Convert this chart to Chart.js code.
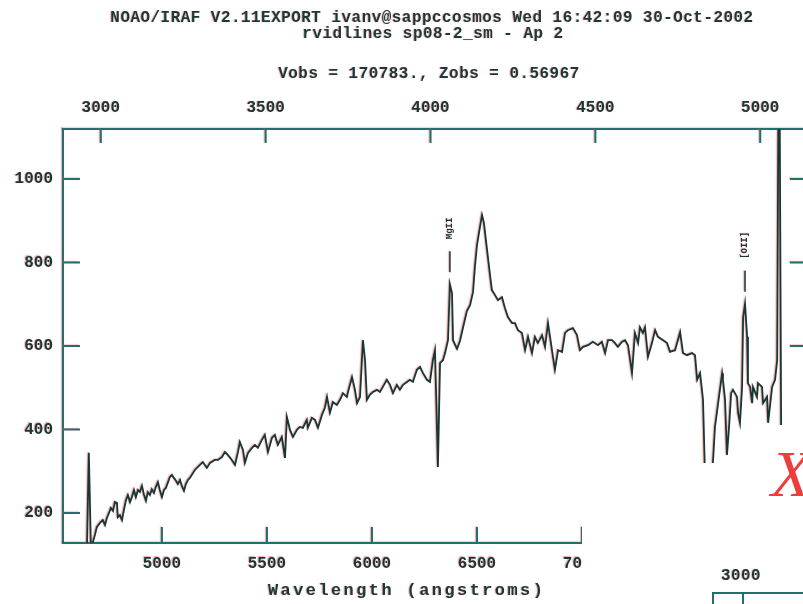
<!DOCTYPE html>
<html>
<head>
<meta charset="utf-8">
<title>rvidlines sp08-2_sm</title>
<script src="https://cdn.jsdelivr.net/npm/chart.js@4.4.1/dist/chart.umd.min.js"></script>
<style>
  html, body { margin: 0; padding: 0; background: #fff; width: 803px; height: 604px; overflow: hidden; }
  #wrap { position: absolute; left: 0; top: 0; width: 830px; height: 604px; }
  canvas { position: absolute; left: 0; top: 0; }
  .txt {
    position: absolute; white-space: pre; color: #163b3a;
    font: bold 16px/16px "Liberation Mono", monospace; letter-spacing: 0.45px;
    text-shadow: -1px -0.5px 1px rgba(235, 80, 80, 0.5);
  }
  .centred { transform: translateX(-50%); }
  /* corner of the neighbouring panel laid over this one */
  .blank { position: absolute; background: #fff; }
  .edge { position: absolute; background: #22706d; }
  #bigX {
    position: absolute; left: 771px; top: 441px; color: #ef3d3d;
    font: italic 66px/66px "Liberation Serif", serif;
  }
</style>
</head>
<body>
<div id="wrap">
  <canvas id="spec" width="830" height="604"></canvas>

  <div class="txt centred" style="left:432px; top:10px;">NOAO/IRAF V2.11EXPORT ivanv@sappccosmos Wed 16:42:09 30-Oct-2002</div>
  <div class="txt centred" style="left:433px; top:26px;">rvidlines sp08-2_sm - Ap 2</div>
  <div class="txt centred" style="left:429px; top:66px;">Vobs = 170783., Zobs = 0.56967</div>
  <div class="txt" style="left:268px; top:583px; font-size:17px; letter-spacing:2.4px;">Wavelength (angstroms)</div>

  <div class="blank" style="left:582px; top:463px; width:250px; height:150px;"></div>
  <div class="blank" style="left:757px; top:425px; width:76px; height:40px;"></div>
  <div id="bigX">X</div>
  <div class="txt centred" style="left:741px; top:568px;">3000</div>
  <div class="edge" style="left:713px; top:592px; width:100px; height:2px;"></div>
  <div class="edge" style="left:712px; top:592px; width:2px; height:14px;"></div>
  <div class="edge" style="left:742px; top:592px; width:2px; height:14px;"></div>
</div>

<script>
// observed wavelength (A) and flux of the extracted aperture
const wavelength = [
  4643, 4652, 4662, 4671, 4681, 4690, 4705, 4719, 4729, 4738, 4748, 4757, 4767, 4776, 4786, 4790,
  4800, 4810, 4819, 4829, 4838, 4848, 4857, 4867, 4876, 4886, 4895, 4905, 4914, 4924, 4933, 4943,
  4952, 4962, 4971, 4981, 4990, 5000, 5010, 5019, 5038, 5048, 5057, 5067, 5076, 5086, 5095, 5105,
  5114, 5124, 5133, 5157, 5181, 5195, 5214, 5229, 5252, 5267, 5286, 5300, 5314, 5333, 5348, 5362,
  5371, 5386, 5395, 5410, 5429, 5443, 5457, 5476, 5490, 5505, 5524, 5538, 5552, 5571, 5586, 5595,
  5610, 5624, 5643, 5657, 5671, 5690, 5695, 5714, 5729, 5743, 5762, 5776, 5786, 5800, 5814, 5833,
  5848, 5862, 5881, 5886, 5905, 5919, 5929, 5943, 5957, 5967, 5976, 5990, 6005, 6024, 6038, 6052,
  6071, 6086, 6100, 6119, 6133, 6148, 6167, 6181, 6195, 6214, 6229, 6243, 6262, 6276, 6290, 6300,
  6310, 6314, 6324, 6338, 6348, 6362, 6371, 6381, 6386, 6405, 6419, 6433, 6452, 6467, 6481, 6490,
  6500, 6514, 6524, 6533, 6548, 6562, 6571, 6586, 6600, 6619, 6633, 6648, 6667, 6681, 6695, 6714,
  6729, 6743, 6762, 6776, 6790, 6810, 6824, 6838, 6857, 6871, 6886, 6905, 6919, 6933, 6957, 6976,
  6990, 7005, 7029, 7052, 7076, 7095, 7110, 7124, 7143, 7157, 7171, 7190, 7205, 7219, 7238, 7252,
  7267, 7276, 7290, 7300, 7314, 7333, 7348, 7362, 7386, 7405, 7419, 7443, 7467, 7481, 7500, 7524,
  7538, 7548, 7562, 7571, 7576, 7586, 7600, 7619, 7633, 7648, 7667, 7671, 7681, 7690, 7700, 7710,
  7719, 7738, 7743, 7752, 7762, 7767, 7776, 7786, 7790, 7800, 7810, 7814, 7833, 7838, 7857, 7862,
  7881, 7886, 7905, 7919, 7929, 7938, 7948, 7957
];
const flux = [
  116, 344, 116, 130, 147, 166, 176, 183, 171, 188, 200, 212, 205, 226, 224, 190,
  195, 183, 207, 231, 243, 226, 238, 255, 238, 255, 250, 265, 245, 229, 250, 243,
  257, 248, 262, 274, 255, 238, 255, 260, 286, 291, 284, 277, 269, 279, 265, 253,
  269, 279, 284, 303, 315, 322, 308, 320, 327, 327, 334, 346, 339, 327, 315, 346,
  370, 351, 320, 344, 356, 363, 356, 375, 387, 346, 380, 387, 363, 382, 332, 430,
  399, 382, 399, 406, 404, 423, 404, 428, 423, 404, 435, 452, 478, 440, 466, 459,
  471, 487, 478, 490, 526, 495, 463, 478, 614, 566, 471, 483, 490, 495, 490, 502,
  519, 507, 487, 507, 495, 507, 514, 519, 514, 543, 550, 535, 519, 514, 566, 590,
  392, 310, 559, 566, 583, 614, 748, 727, 614, 593, 612, 643, 684, 698, 729, 789,
  842, 885, 914, 895, 830, 770, 734, 722, 710, 717, 691, 669, 655, 655, 638, 631,
  590, 622, 583, 622, 607, 626, 598, 655, 590, 543, 590, 586, 631, 638, 643, 626,
  590, 598, 602, 610, 602, 610, 583, 614, 614, 607, 598, 610, 614, 602, 535, 631,
  607, 645, 631, 645, 574, 607, 638, 622, 614, 607, 586, 590, 633, 583, 578, 583,
  578, 519, 535, 495, 471, 279, 267, 284, 406, 463, 535, 519, 471, 339, 406, 487,
  495, 478, 440, 416, 502, 669, 701, 622, 511, 502, 463, 502, 478, 511, 502, 463,
  478, 416, 502, 519, 566, 1500, 399, 279
];

const obsTicks = [5000, 5500, 6000, 6500, 7000, 7500, 8000];
const restTicks = [3000, 3500, 4000, 4500, 5000];
const fluxTicks = [200, 400, 600, 800, 1000];

// identified features
const lineNames = ['MgII', '[OII]'];
const lineWaves = [6371, 7776];

const zobs = 0.56967;
const waveMin = 4529;
const waveMax = 8071;
const fluxMin = 128;
const fluxMax = 1120;

const INK = '#143836';
const FRAME = '#22706d';
const monoFont = { family: '"Liberation Mono", monospace', size: 16, weight: 'bold' };

function fixedTicks(values) {
    return (scale) => {
        scale.ticks = values.map((v) => ({ value: v }));
    };
}

// IRAF draws its tick marks pointing into the plot box; also gives everything
// the faint red fringe of the printed plot
const irafFrame = {
    id: 'irafFrame',
    beforeDraw(chart) {
        const ctx = chart.ctx;
        ctx.save();
        ctx.shadowColor = 'rgba(235, 80, 80, 0.5)';
        ctx.shadowOffsetX = -1;
        ctx.shadowOffsetY = -0.5;
        ctx.shadowBlur = 1;
    },
    afterDatasetsDraw(chart) {
        const ctx = chart.ctx;
        const x = chart.scales.x;
        const y = chart.scales.y;
        ctx.save();
        ctx.strokeStyle = INK;
        ctx.fillStyle = INK;
        ctx.lineWidth = 1.5;
        lineWaves.forEach((w, i) => {
            let peak = -Infinity;
            wavelength.forEach((lw, j) => {
                if (Math.abs(lw - w) <= 12) peak = Math.max(peak, flux[j]);
            });
            const px = x.getPixelForValue(w);
            const py = y.getPixelForValue(peak);
            ctx.beginPath();
            ctx.moveTo(px, py - 12);
            ctx.lineTo(px, py - 33);
            ctx.stroke();
            ctx.save();
            ctx.translate(px, py - 45);
            ctx.rotate(-Math.PI / 2);
            ctx.font = 'bold 9px "Liberation Mono", monospace';
            ctx.textAlign = 'left';
            ctx.textBaseline = 'middle';
            ctx.fillText(lineNames[i], 0, 0);
            ctx.restore();
        });
        ctx.restore();
    },
    afterDraw(chart) {
        const { ctx, chartArea: a, scales } = chart;
        ctx.strokeStyle = FRAME;
        ctx.lineWidth = 2;
        ctx.beginPath();
        scales.x.ticks.forEach((t) => {
            const px = scales.x.getPixelForValue(t.value);
            ctx.moveTo(px, a.bottom);
            ctx.lineTo(px, a.bottom - 16);
        });
        scales.xTop.ticks.forEach((t) => {
            const px = scales.xTop.getPixelForValue(t.value);
            ctx.moveTo(px, a.top);
            ctx.lineTo(px, a.top + 14);
        });
        scales.y.ticks.forEach((t) => {
            const py = scales.y.getPixelForValue(t.value);
            ctx.moveTo(a.left, py);
            ctx.lineTo(a.left + 17, py);
            ctx.moveTo(a.right, py);
            ctx.lineTo(a.right - 17, py);
        });
        ctx.stroke();
        ctx.restore();
    },
};

const axisBorder = { display: true, color: FRAME, width: 2 };
const noGrid = { display: false, drawTicks: false };

new Chart(document.getElementById('spec'), {
    type: 'line',
    data: {
        datasets: [
            {
                data: wavelength.map((w, i) => ({ x: w, y: flux[i] })),
                borderColor: INK,
                borderWidth: 1.8,
                pointRadius: 0,
                tension: 0,
                fill: false,
            },
        ],
    },
    options: {
        responsive: false,
        animation: false,
        layout: { padding: 0 },
        plugins: {
            legend: { display: false },
            tooltip: { enabled: false },
        },
        scales: {
            x: {
                type: 'linear',
                position: 'bottom',
                min: waveMin,
                max: waveMax,
                afterBuildTicks: fixedTicks(obsTicks),
                afterFit: (s) => { s.height = 61; },
                grid: noGrid,
                border: axisBorder,
                ticks: { font: monoFont, color: INK, padding: 11, maxRotation: 0, autoSkip: false, callback: (v) => String(v) },
            },
            xTop: {
                type: 'linear',
                position: 'top',
                min: waveMin / (1 + zobs),
                max: waveMax / (1 + zobs),
                afterBuildTicks: fixedTicks(restTicks),
                afterFit: (s) => { s.height = 129; },
                grid: noGrid,
                border: axisBorder,
                ticks: { font: monoFont, color: INK, padding: 11, maxRotation: 0, autoSkip: false, callback: (v) => String(v) },
            },
            y: {
                type: 'linear',
                position: 'left',
                min: fluxMin,
                max: fluxMax,
                afterBuildTicks: fixedTicks(fluxTicks),
                afterFit: (s) => { s.width = 63; },
                grid: noGrid,
                border: axisBorder,
                ticks: { font: monoFont, color: INK, padding: 10, callback: (v) => String(v) },
            },
            yRight: {
                type: 'linear',
                position: 'right',
                min: fluxMin,
                max: fluxMax,
                afterBuildTicks: fixedTicks(fluxTicks),
                afterFit: (s) => { s.width = 23; },
                grid: noGrid,
                border: axisBorder,
                ticks: { display: false },
            },
        },
    },
    plugins: [irafFrame],
});
</script>
</body>
</html>
